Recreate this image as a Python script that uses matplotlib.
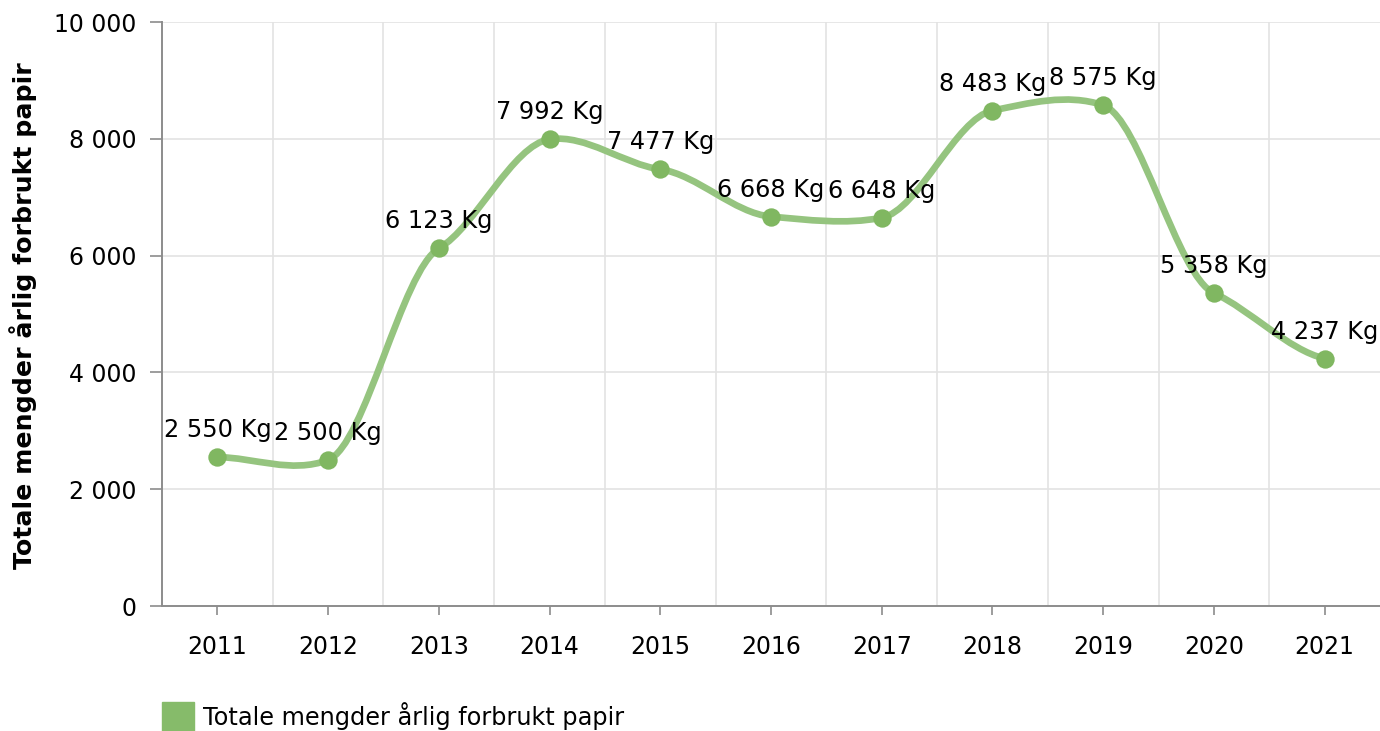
"""
Totale mengder årlig forbrukt papir 2011-2021, smoothed line chart.
"""

import matplotlib
matplotlib.use("Agg")
import matplotlib.pyplot as plt
from matplotlib.path import Path
from matplotlib.patches import PathPatch, Rectangle

years = ["2011", "2012", "2013", "2014", "2015", "2016",
         "2017", "2018", "2019", "2020", "2021"]
paper_kg = [2550, 2500, 6123, 7992, 7477, 6668, 6648, 8483, 8575, 5358, 4237]
y_ticks = [0, 2000, 4000, 6000, 8000, 10000]
series_name = "Totale mengder årlig forbrukt papir"
y_title = "Totale mengder årlig forbrukt papir"

LINE_COLOR = "#95c47f"
MARKER_COLOR = "#80b761"
AXIS_COLOR = "#8c8c8c"
GRID_COLOR = "#e3e3e3"
FS = 17


def fmt(v):
    return f"{v:,}".replace(",", " ")


def smooth_path(xs, ys, k=0.4, cx=1 / 3):
    """Bezier path through the points, tangents damped in y (chart lib style)."""
    n = len(xs)
    slopes = []
    for i in range(n):
        a = max(i - 1, 0)
        b = min(i + 1, n - 1)
        slopes.append(k * (ys[b] - ys[a]) / (xs[b] - xs[a]))
    verts = [(xs[0], ys[0])]
    codes = [Path.MOVETO]
    for i in range(1, n):
        dx = (xs[i] - xs[i - 1]) * cx
        verts += [(xs[i - 1] + dx, ys[i - 1] + slopes[i - 1] * dx),
                  (xs[i] - dx, ys[i] - slopes[i] * dx),
                  (xs[i], ys[i])]
        codes += [Path.CURVE4] * 3
    return Path(verts, codes)


W, H = 1380, 731
fig = plt.figure(figsize=(W / 100, H / 100), dpi=100)
ax = fig.add_axes([162 / W, (H - 606) / H, (W - 162) / W, (606 - 22) / H])

xs = list(range(len(years)))
ax.add_patch(PathPatch(smooth_path(xs, paper_kg), facecolor="none",
                       edgecolor=LINE_COLOR, lw=4.8, capstyle="round",
                       joinstyle="round", zorder=3))
ax.scatter(xs, paper_kg, s=175, color=MARKER_COLOR, zorder=4, linewidths=0)

for x, v in zip(xs, paper_kg):
    ax.annotate(f"{fmt(v)} Kg", (x, v), xytext=(0, 14.4), textcoords="offset points",
                ha="center", va="baseline", fontsize=17.3, color="#000000",
                zorder=5, annotation_clip=False)

ax.set_xlim(-0.5, len(years) - 0.5)
ax.set_ylim(0, 10000)
ax.set_xticks(xs)
ax.set_xticklabels(years)
ax.set_yticks(y_ticks)
ax.set_yticklabels([fmt(t) for t in y_ticks])

for b in [i + 0.5 for i in range(len(years) - 1)]:
    ax.axvline(b, color=GRID_COLOR, lw=1.2, zorder=1)
for t in y_ticks[1:]:
    ax.axhline(t, color=GRID_COLOR, lw=1.2, zorder=1)

for side in ["top", "right"]:
    ax.spines[side].set_visible(False)
for side in ["left", "bottom"]:
    ax.spines[side].set_color(AXIS_COLOR)
    ax.spines[side].set_linewidth(1.4)

ax.tick_params(axis="y", length=8.6, width=1.2, color=AXIS_COLOR, pad=10,
               labelsize=FS)
ax.tick_params(axis="x", length=6.5, width=1.2, color=AXIS_COLOR, pad=14.5,
               labelsize=FS)

fig.text(23 / W, 1 - 316 / H, y_title, rotation=90, ha="center", va="center",
         fontsize=18.2, fontweight="bold")

# legend
fig.patches.append(Rectangle((162 / W, 0), 32 / W, (H - 702) / H,
                             transform=fig.transFigure, color="#86bb6a"))
fig.text(203 / W, 1 - 725 / H, series_name, ha="left", va="baseline",
         fontsize=17.3)

fig.savefig("out.png", dpi=100)
